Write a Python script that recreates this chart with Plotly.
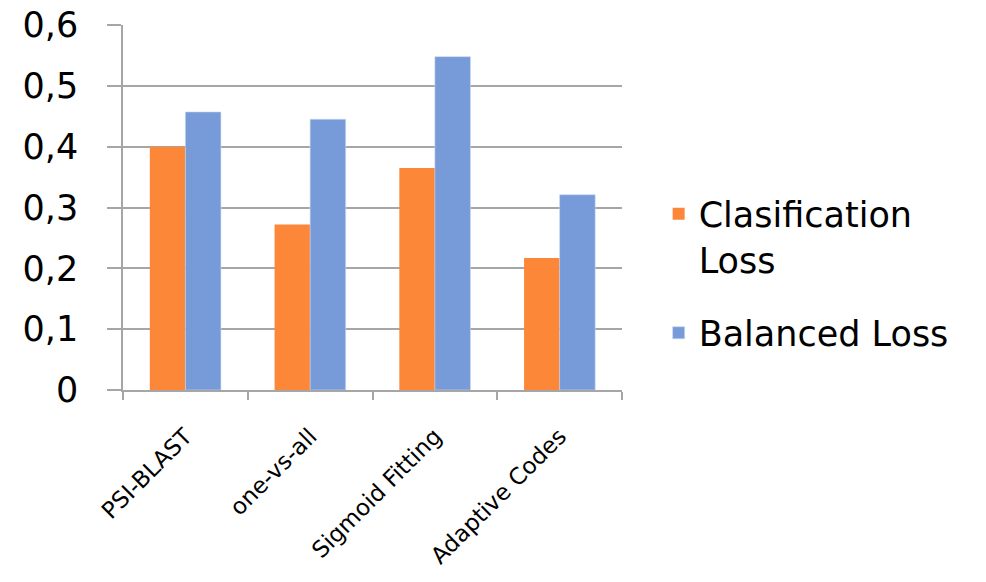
import plotly.graph_objects as go

# Loss values per method
methods = ["PSI-BLAST", "one-vs-all", "Sigmoid Fitting", "Adaptive Codes"]
classification_loss = [0.40, 0.272, 0.365, 0.217]
balanced_loss = [0.457, 0.445, 0.548, 0.321]
y_ticks = [0, 0.1, 0.2, 0.3, 0.4, 0.5, 0.6]

FONT = "DejaVu Sans"
GRID = "#A6A6A6"

fig = go.Figure()
fig.add_trace(go.Bar(
    x=methods, y=classification_loss, name="Clasification<br>Loss",
    legendgroup="cls",
    marker=dict(color="#FD8738", line=dict(width=0)),
))
fig.add_trace(go.Bar(
    x=methods, y=balanced_loss, name="Balanced Loss",
    legendgroup="bal",
    marker=dict(color="#779AD8", line=dict(width=0.6, color="#C9D6F0")),
))

fig.update_layout(
    width=986, height=582,
    margin=dict(l=123, r=364, t=25, b=192, autoexpand=False),
    paper_bgcolor="white", plot_bgcolor="white",
    barmode="group", bargap=0.43, bargroupgap=0,
    separators=",.",
    font=dict(family=FONT, color="black"),
    showlegend=True,
    legend=dict(
        xref="container", yref="container",
        x=0.668, y=0.683, xanchor="left", yanchor="top",
        font=dict(size=35, family=FONT, color="black"),
        valign="top", tracegroupgap=25, itemwidth=30,
        bgcolor="rgba(0,0,0,0)",
    ),
    xaxis=dict(
        type="category",
        tickangle=-45,
        automargin=False,
        tickfont=dict(size=23, family=FONT, color="black"),
        showline=True, linecolor=GRID, linewidth=1.5,
        ticks="outside", tickson="boundaries", ticklen=8, tickcolor=GRID, tickwidth=1.5,
        ticklabelstandoff=22,
        showgrid=False,
    ),
    yaxis=dict(
        range=[0, 0.6],
        tickvals=y_ticks,
        automargin=False,
        tickfont=dict(size=35, family=FONT, color="black"),
        showline=True, linecolor=GRID, linewidth=1.5,
        ticks="outside", ticklen=14, tickcolor=GRID, tickwidth=1.5,
        ticklabelstandoff=22,
        showgrid=True, gridcolor=GRID, gridwidth=1.5,
        zeroline=False,
    ),
)

fig.write_html("out.html")
